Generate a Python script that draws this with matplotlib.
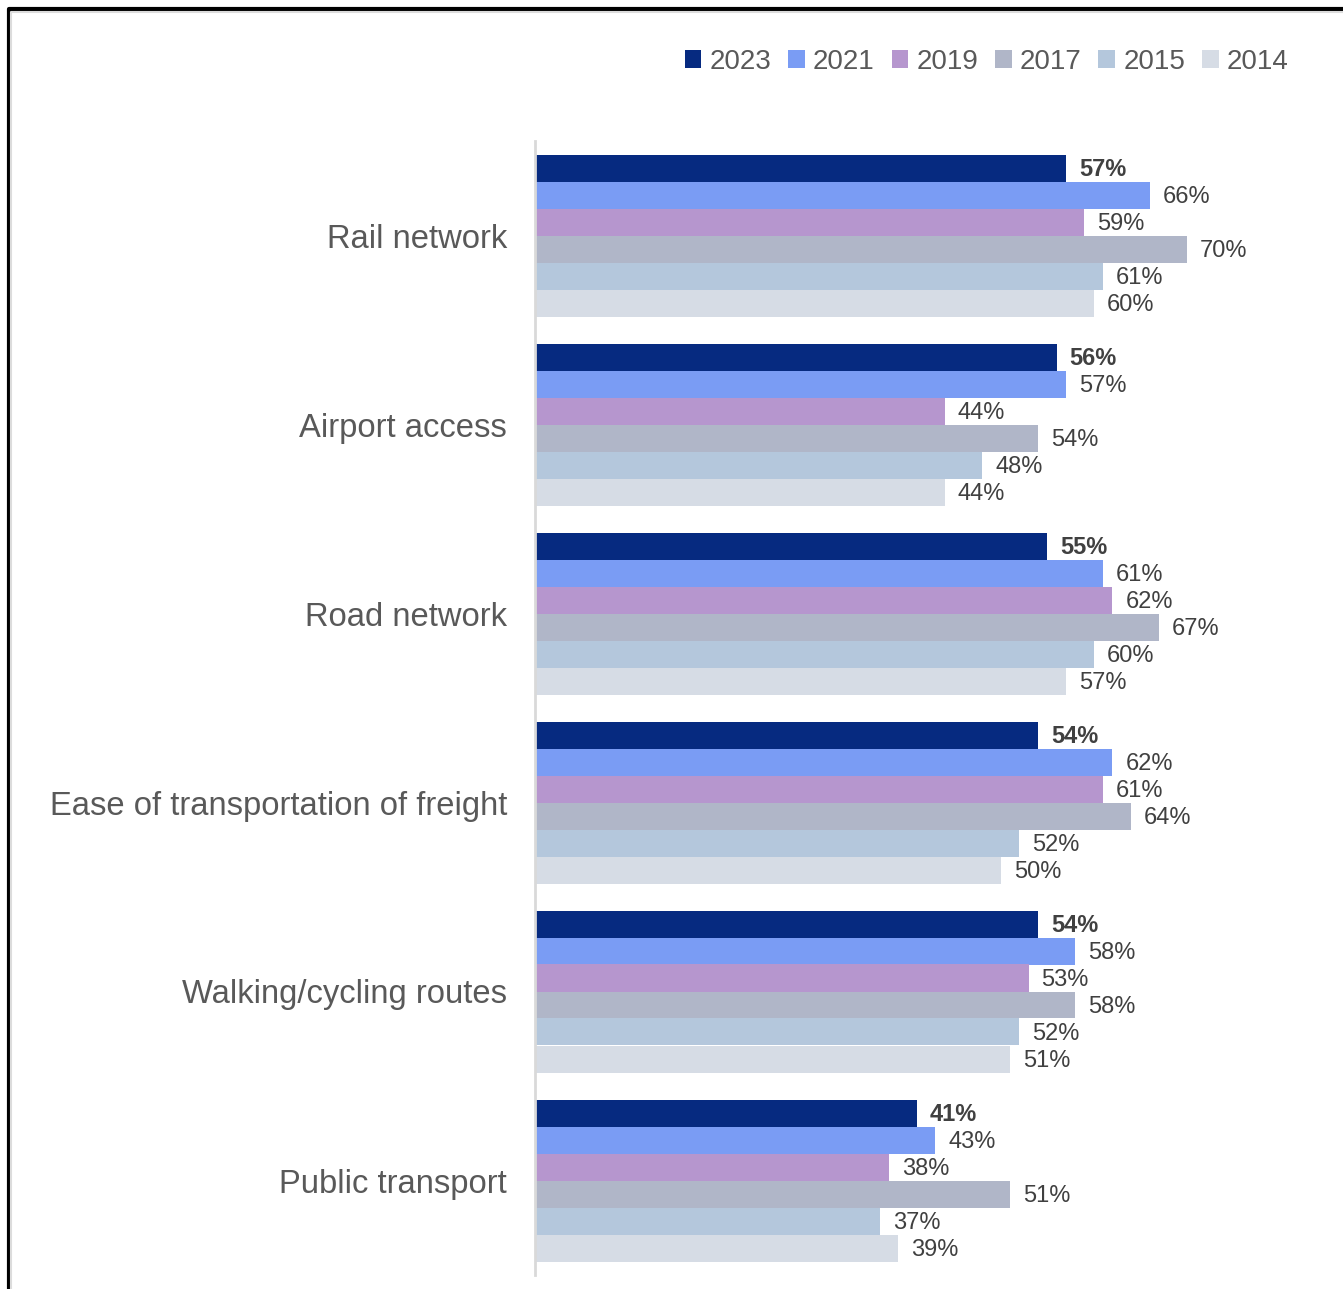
import numpy as np
import matplotlib.pyplot as plt
from matplotlib.patches import Patch
from matplotlib.lines import Line2D

plt.rcParams['font.family'] = ['Liberation Sans', 'DejaVu Sans']

categories = ['Rail network', 'Airport access', 'Road network',
              'Ease of transportation of freight', 'Walking/cycling routes',
              'Public transport']
years = ['2023', '2021', '2019', '2017', '2015', '2014']
values = {
    '2023': [57, 56, 55, 54, 54, 41],
    '2021': [66, 57, 61, 62, 58, 43],
    '2019': [59, 44, 62, 61, 53, 38],
    '2017': [70, 54, 67, 64, 58, 51],
    '2015': [61, 48, 60, 52, 52, 37],
    '2014': [60, 44, 57, 50, 51, 39],
}
colors = ['#062a80', '#7a9cf4', '#b696ce', '#b0b6c8', '#b4c7dc', '#d6dce5']

W, H = 1343, 1289
fig = plt.figure(figsize=(W / 100, H / 100), dpi=100)
ax = fig.add_axes([535 / W, 1 - 1275 / H, (1280 - 535) / W, (1275 - 141) / H])

n = len(categories)
bh = 1 / 7
for j, (yr, c) in enumerate(zip(years, colors)):
    ys = np.arange(n) + 0.5 - 3 * bh + (j + 0.5) * bh
    vals = values[yr]
    ax.barh(ys, vals, height=bh, color=c, edgecolor='none')
    for y, v in zip(ys, vals):
        ax.text(v + 1.4, y + 0.008, f'{v}%', va='center', ha='left', fontsize=17,
                color='#404040', fontweight='bold' if j == 0 else 'normal')

ax.set_ylim(n, 0)
ax.set_xlim(0, 80)
ax.set_yticks(np.arange(n) + 0.5)
ax.set_yticklabels(categories, fontsize=23.6, color='#595959')
ax.tick_params(axis='y', length=0, pad=20)
ax.set_xticks([])
for s in ['top', 'right', 'bottom']:
    ax.spines[s].set_visible(False)
ax.spines['left'].set_color('#d9d9d9')
ax.spines['left'].set_linewidth(2)

handles = [Patch(facecolor=c, edgecolor='none') for c in colors]
fig.legend(handles, years, loc='center right', bbox_to_anchor=(1300 / W, 1 - 62 / H),
           ncol=6, frameon=False, fontsize=20, labelcolor='#595959',
           handlelength=0.6, handleheight=0.6, handletextpad=0.3,
           columnspacing=0.6, borderaxespad=0)

# outer frame: black edge on top and left with a faint grey shadow inside
fig.add_artist(Line2D([8.5 / W, 8.5 / W, 1], [0, 1 - 9 / H, 1 - 9 / H],
                      transform=fig.transFigure, color='black', lw=3))
fig.add_artist(Line2D([11 / W, 11 / W, 1], [0, 1 - 11.5 / H, 1 - 11.5 / H],
                      transform=fig.transFigure, color='#dcdcdc', lw=1.5))

fig.savefig('out.png', dpi=100)
